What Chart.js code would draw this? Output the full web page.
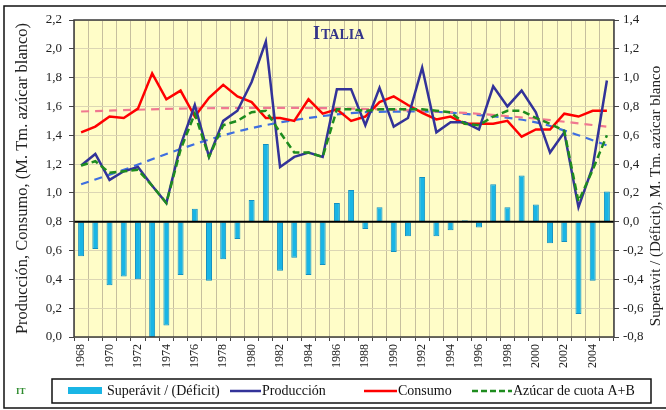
<!DOCTYPE html>
<html>
<head>
<meta charset="utf-8">
<script src="https://cdn.jsdelivr.net/npm/chart.js@4.4.1/dist/chart.umd.min.js"></script>
<style>
  html, body { margin: 0; padding: 0; background: #fff; }
  #wrap { width: 666px; height: 410px; }
</style>
</head>
<body>
<div id="wrap"><canvas id="azucar" width="666" height="410"></canvas></div>
<script>
// Italia: producción, consumo y cuota A+B (M. Tm. azúcar blanco), 1968-2005
const years = ['1968','1969','1970','1971','1972','1973','1974','1975','1976','1977',
  '1978','1979','1980','1981','1982','1983','1984','1985','1986','1987',
  '1988','1989','1990','1991','1992','1993','1994','1995','1996','1997',
  '1998','1999','2000','2001','2002','2003','2004','2005'];

const superavit = [-0.24,-0.19,-0.44,-0.38,-0.40,-0.80,-0.72,-0.37,0.09,-0.41,
  -0.26,-0.12,0.15,0.54,-0.34,-0.25,-0.37,-0.30,0.13,0.22,
  -0.05,0.10,-0.21,-0.10,0.31,-0.10,-0.06,0.01,-0.04,0.26,
  0.10,0.32,0.12,-0.15,-0.14,-0.64,-0.41,0.21];

const produccion = [1.19,1.27,1.09,1.15,1.18,1.05,0.93,1.33,1.61,1.25,
  1.50,1.57,1.77,2.05,1.18,1.25,1.28,1.25,1.72,1.72,
  1.47,1.73,1.46,1.52,1.87,1.42,1.49,1.49,1.44,1.74,
  1.60,1.71,1.56,1.28,1.42,0.90,1.18,1.78];

const consumo = [1.42,1.46,1.53,1.52,1.585,1.83,1.65,1.71,1.53,1.66,
  1.75,1.67,1.63,1.52,1.52,1.50,1.65,1.55,1.58,1.50,
  1.53,1.63,1.67,1.61,1.555,1.51,1.53,1.48,1.48,1.48,
  1.50,1.39,1.44,1.44,1.55,1.53,1.57,1.57];

const cuota = [1.19,1.22,1.14,1.15,1.16,1.05,0.93,1.30,1.55,1.25,
  1.47,1.50,1.56,1.57,1.42,1.28,1.28,1.25,1.58,1.58,
  1.57,1.58,1.58,1.58,1.58,1.57,1.56,1.48,1.47,1.53,
  1.57,1.57,1.52,1.48,1.43,0.94,1.16,1.40];

const tendConsumo = [['1968',1.565],['1975',1.585],['1982',1.59],['1989',1.58],
  ['1995',1.555],['2000',1.515],['2005',1.46]];
const tendProduccion = [['1968',1.06],['1971',1.16],['1974',1.27],['1977',1.37],
  ['1980',1.45],['1984',1.52],['1988',1.56],['1992',1.565],['1996',1.54],
  ['2000',1.49],['2003',1.40],['2005',1.33]];

const leftTicks = [0, 2.2];
const rightTicks = [-0.8, 1.4];

const serif = '"Liberation Serif", "Times New Roman", serif';
const coma = v => v.toFixed(1).replace('.', ',');

const decor = {
  id: 'decor',
  beforeDraw(chart) {
    const { ctx, chartArea: a } = chart;
    ctx.save();
    ctx.fillStyle = '#ffffff';
    ctx.fillRect(0, 0, chart.width, chart.height);
    ctx.fillStyle = '#FFFDC8';
    ctx.fillRect(a.left, a.top, a.right - a.left, a.bottom - a.top);
    ctx.restore();
  },
  afterDatasetsDraw(chart) {
    const { ctx, chartArea: a } = chart;
    const y0 = chart.scales.yR.getPixelForValue(0);
    ctx.save();
    ctx.strokeStyle = '#000';
    ctx.lineWidth = 2;
    ctx.beginPath();
    ctx.moveTo(a.left, y0);
    ctx.lineTo(a.right, y0);
    ctx.stroke();
    ctx.strokeStyle = '#3a3a3a';
    ctx.lineWidth = 1.5;
    ctx.strokeRect(a.left, a.top, a.right - a.left, a.bottom - a.top);
    ctx.restore();
  },
  afterDraw(chart) {
    const { ctx } = chart;
    ctx.save();
    // título
    ctx.fillStyle = '#35358a';
    ctx.textBaseline = 'alphabetic';
    ctx.font = 'bold 18px ' + serif;
    ctx.fillText('I', 313, 39);
    ctx.font = 'bold 14px ' + serif;
    ctx.fillText('TALIA', 321, 39);

    // título del eje derecho (se lee de abajo arriba)
    ctx.fillStyle = '#222';
    ctx.font = '15px ' + serif;
    ctx.translate(656, 196);
    ctx.rotate(-Math.PI / 2);
    ctx.textAlign = 'center';
    ctx.textBaseline = 'middle';
    ctx.fillText('Superávit / (Déficit), M. Tm. azúcar blanco', 0, 0);
    ctx.setTransform(1, 0, 0, 1, 0, 0);

    // marco exterior
    ctx.strokeStyle = '#111';
    ctx.lineWidth = 1.5;
    ctx.strokeRect(4, 6, 670, 402);

    // código de país
    ctx.fillStyle = '#2e8b2e';
    ctx.font = 'bold 9px ' + serif;
    ctx.textAlign = 'left';
    ctx.textBaseline = 'middle';
    ctx.fillText('IT', 16, 392);

    // leyenda
    ctx.fillStyle = '#fff';
    ctx.fillRect(52, 379, 599, 24);
    ctx.strokeStyle = '#111';
    ctx.lineWidth = 1.5;
    ctx.strokeRect(52, 379, 599, 24);
    const ly = 391;
    ctx.font = '14px ' + serif;
    ctx.fillStyle = '#19B5E5';
    ctx.fillRect(68, 387, 34, 7);
    ctx.fillStyle = '#111';
    ctx.fillText('Superávit / (Déficit)', 107, ly);
    const linea = (x1, x2, color, dash) => {
      ctx.strokeStyle = color;
      ctx.lineWidth = 2.5;
      ctx.setLineDash(dash);
      ctx.beginPath();
      ctx.moveTo(x1, ly);
      ctx.lineTo(x2, ly);
      ctx.stroke();
      ctx.setLineDash([]);
    };
    linea(230, 261, '#333399', []);
    ctx.fillText('Producción', 262, ly);
    linea(364, 397, '#ff0000', []);
    ctx.fillText('Consumo', 398, ly);
    linea(472, 512, '#1e8c1e', [6, 3]);
    ctx.fillText('Azúcar de cuota A+B', 513, ly);
    ctx.restore();
  }
};

new Chart(document.getElementById('azucar'), {
  type: 'bar',
  data: {
    labels: years,
    datasets: [
      {
        type: 'line', label: 'Azúcar de cuota A+B', data: cuota, yAxisID: 'y',
        borderColor: '#1e8c1e', borderWidth: 2.5, borderDash: [7, 4],
        pointRadius: 0, tension: 0, order: 1
      },
      {
        type: 'line', label: 'Producción', data: produccion, yAxisID: 'y',
        borderColor: '#333399', borderWidth: 2.5, pointRadius: 0, tension: 0, order: 2
      },
      {
        type: 'line', label: 'Consumo', data: consumo, yAxisID: 'y',
        borderColor: '#ff0000', borderWidth: 2.5, pointRadius: 0, tension: 0, order: 3
      },
      {
        type: 'line', label: 'Tendencia consumo',
        data: tendConsumo.map(p => ({ x: p[0], y: p[1] })), yAxisID: 'y',
        borderColor: '#f07890', borderWidth: 2.2, borderDash: [8, 6],
        pointRadius: 0, cubicInterpolationMode: 'monotone', order: 4
      },
      {
        type: 'line', label: 'Tendencia producción',
        data: tendProduccion.map(p => ({ x: p[0], y: p[1] })), yAxisID: 'y',
        borderColor: '#3f6fe0', borderWidth: 2.2, borderDash: [8, 6],
        pointRadius: 0, cubicInterpolationMode: 'monotone', order: 5
      },
      {
        type: 'bar', label: 'Superávit / (Déficit)', data: superavit, yAxisID: 'yR',
        backgroundColor: '#19B5E5', borderColor: '#1290c2', borderWidth: 1,
        barPercentage: 0.42, categoryPercentage: 1, order: 10
      }
    ]
  },
  options: {
    responsive: false,
    animation: false,
    layout: { padding: { top: 20, left: 0, right: 0, bottom: 0 } },
    plugins: { legend: { display: false }, tooltip: { enabled: false } },
    scales: {
      x: {
        offset: true,
        grid: { offset: true, color: '#C6BF9E', lineWidth: 1, tickLength: 4, tickColor: '#444' },
        border: { display: false },
        ticks: {
          autoSkip: false, maxRotation: 90, minRotation: 90, padding: 3,
          color: '#222', font: { family: serif, size: 12 },
          callback(v) {
            const y = this.getLabelForValue(v);
            return Number(y) % 2 === 0 ? y : '';
          }
        },
        afterFit(s) { s.height = 73; }
      },
      y: {
        position: 'left',
        min: leftTicks[0], max: leftTicks[1],
        grid: {
          color: '#DCD6B4', lineWidth: 1, tickLength: 5, tickColor: '#444'
        },
        border: { display: false },
        ticks: {
          stepSize: 0.2, padding: 7, color: '#222',
          font: { family: serif, size: 13 },
          callback: v => coma(v)
        },
        title: {
          display: true, text: 'Producción, Consumo, (M. Tm. azúcar blanco)',
          color: '#222', font: { family: serif, size: 16.5 }, padding: { top: 13, bottom: 0 }
        },
        afterFit(s) { s.width = 74; }
      },
      yR: {
        position: 'right',
        min: rightTicks[0], max: rightTicks[1],
        grid: { drawOnChartArea: false, tickLength: 5, tickColor: '#444' },
        border: { display: false },
        ticks: {
          stepSize: 0.2, padding: 4, color: '#222',
          font: { family: serif, size: 13 },
          callback: v => coma(v)
        },
        afterFit(s) { s.width = 52; }
      }
    }
  },
  plugins: [decor]
});
</script>
</body>
</html>
